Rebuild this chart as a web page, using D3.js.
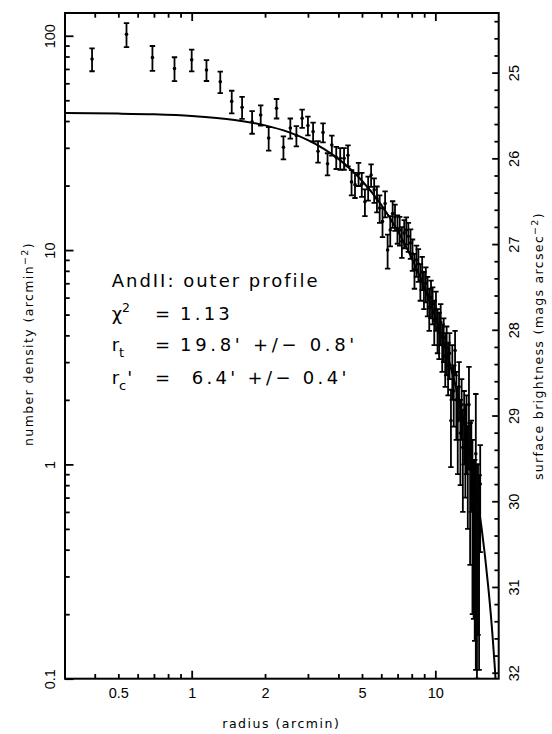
<!DOCTYPE html>
<html><head><meta charset="utf-8">
<script src="https://cdn.jsdelivr.net/npm/d3@7"></script>
<style>
body{margin:0;background:#fff;}
svg{display:block;}
</style></head><body>
<svg id="chart" width="552" height="734"></svg>
<script>
// ---- data ----
const radius = [
 0.39, 0.54, 0.69, 0.85, 1.00, 1.15, 1.31, 1.46, 1.61, 1.77,
 1.92, 2.07, 2.23, 2.38, 2.54, 2.69, 2.84, 3.00, 3.15, 3.30,
 3.46, 3.61, 3.76, 3.92, 4.07, 4.22, 4.38, 4.53, 4.68, 4.84,
 4.99, 5.14, 5.30, 5.45, 5.61, 5.76, 5.91, 6.07, 6.22, 6.37,
 6.53, 6.68, 6.83, 6.99, 7.14, 7.29, 7.45, 7.60, 7.75, 7.91,
 8.06, 8.21, 8.37, 8.52, 8.68, 8.83, 8.98, 9.14, 9.29, 9.44,
 9.60, 9.75, 9.90, 10.06, 10.21, 10.36, 10.52, 10.67, 10.82, 10.98,
 11.13, 11.28, 11.44, 11.59, 11.74, 11.90, 12.05, 12.20, 12.36, 12.51,
 12.67, 12.82, 12.97, 13.13, 13.28, 13.43, 13.59, 13.74, 13.89, 14.05,
 14.20, 14.36, 14.51, 14.66, 14.82, 14.97, 15.12, 15.28];
const density = [
 77.8, 101.5, 79.1, 70.4, 77.2, 69.2, 61.0, 49.4, 46.4, 39.7,
 42.7, 33.3, 45.9, 30.2, 37.1, 34.2, 41.2, 38.1, 35.7, 28.9,
 35.4, 25.3, 30.9, 27.1, 26.8, 26.8, 27.7, 20.8, 20.2, 22.7,
 20.3, 16.8, 19.5, 22.4, 19.1, 17.4, 15.7, 13.6, 16.5, 10.0,
 12.4, 14.8, 14.3, 12.6, 12.4, 11.0, 12.0, 12.4, 11.6, 10.8,
 9.6, 8.1, 9.0, 8.6, 7.2, 7.9, 6.6, 7.0, 6.2, 5.4,
 6.0, 5.6, 4.7, 5.3, 4.3, 4.1, 4.6, 3.6, 3.9, 3.2,
 3.5, 2.9, 3.3, 1.6, 2.8, 2.2, 3.4, 2.0, 1.6, 2.3,
 1.4, 1.9, 1.2, 1.6, 1.3, 1.5, 1.0, 1.9, 0.95, 1.1,
 0.75, 0.62, 0.6, 1.12, 0.55, 0.58, 0.5, 0.81];
const densityErr = [
 9.5, 13, 10.5, 9, 9, 7.7, 7, 6, 5.5, 4.8,
 4.6, 4.2, 4.8, 3.7, 4.0, 3.7, 4.0, 3.8, 3.6, 3.3,
 3.6, 3.0, 3.3, 3.2, 3.1, 3.1, 3.1, 2.8, 2.7, 2.8,
 2.6, 2.4, 2.5, 2.7, 2.5, 2.4, 2.3, 2.1, 2.3, 1.8,
 2.0, 2.1, 2.0, 1.9, 1.9, 1.8, 1.8, 1.8, 1.8, 1.7,
 1.6, 1.5, 1.5, 1.5, 1.4, 1.4, 1.3, 1.3, 1.3, 1.2,
 1.2, 1.1, 1.1, 1.1, 1.0, 1.0, 1.0, 0.9, 0.9, 0.9,
 0.9, 0.8, 0.8, 0.63, 0.8, 0.7, 0.8, 0.7, 0.7, 0.7,
 0.6, 0.6, 0.6, 0.6, 0.6, 0.6, 0.5, 0.95, 0.61, 0.5,
 0.55, 0.43, 0.45, 1.01, 0.45, 0.42, 0.39, 0.42];
// King-model fit curve
const modelRadius = [0.302, 0.5, 0.7, 1, 1.5, 2, 2.5, 3, 3.5, 4, 4.5, 5, 6, 7, 8, 9, 10, 11, 12, 13, 14, 15, 15.5, 16, 16.5, 17, 17.25, 17.5, 18, 18.5];
const modelDensity = [43.6, 43.34, 42.98, 42.22, 40.46, 38.17, 35.50, 32.60, 29.61, 26.63, 23.76, 21.05, 16.24, 12.30, 9.17, 6.74, 4.886, 3.479, 2.423, 1.640, 1.067, 0.657, 0.500, 0.371, 0.266, 0.183, 0.148, 0.1175, 0.0686, 0.0341];
// ticks
const xTickLabels = [0.5, 1, 2, 5, 10];
const xMajorTicks = [1, 10];
const xMinorTicks = [0.4, 0.5, 0.6, 0.7, 0.8, 0.9, 2, 3, 4, 5, 6, 7, 8, 9];
const yTickLabels = [0.1, 1, 10, 100];
const yMinorTicks = [0.2,0.3,0.4,0.5,0.6,0.7,0.8,0.9,2,3,4,5,6,7,8,9,20,30,40,50,60,70,80,90];
const magTickLabels = [25, 26, 27, 28, 29, 30, 31, 32];
const magZeroPoint = 29.57;   // mag = zp - 2.5 log10(density)

// ---- layout ----
const L = 65, R = 498.7, T = 13, B = 678.7;
const svg = d3.select("#chart");
const TICKFONT = "'Liberation Sans', Arial, sans-serif";
const TXTFONT = "'DejaVu Sans', sans-serif";

const x = d3.scaleLog().domain([0.302, 18.2]).range([L, R]);
const y = d3.scaleLog().domain([0.1, 127.7]).range([B, T]);
const mag = d3.scaleLinear()
  .domain([magZeroPoint - 2.5*Math.log10(127.7), magZeroPoint - 2.5*Math.log10(0.1)])
  .range([T, B]);
const magMinor = d3.range(122, 161).map(k => k/5).filter(v => Math.abs(v - Math.round(v)) > 1e-6);

svg.append("rect").attr("width",552).attr("height",734).attr("fill","#fff");

function tickAxis(axis, transform){
  const g = svg.append("g").attr("transform", transform).call(axis);
  g.select(".domain").remove();
  g.selectAll("line").attr("stroke","#000").attr("stroke-width",1.8);
  return g;
}
// bottom
tickAxis(d3.axisBottom(x).tickValues(xMinorTicks).tickSize(-4.7).tickFormat(""), `translate(0,${B})`);
tickAxis(d3.axisBottom(x).tickValues(xMajorTicks).tickSize(-8).tickFormat(""), `translate(0,${B})`);
const xl = tickAxis(d3.axisBottom(x).tickValues(xTickLabels).tickSize(0).tickPadding(9).tickFormat(d => String(d)), `translate(0,${B})`);
xl.attr("font-family", TICKFONT).attr("font-size", 14.5);
xl.selectAll("text").attr("fill","#000");
// top
tickAxis(d3.axisTop(x).tickValues(xMinorTicks).tickSize(-4.7).tickFormat(""), `translate(0,${T})`);
tickAxis(d3.axisTop(x).tickValues(xMajorTicks).tickSize(-8).tickFormat(""), `translate(0,${T})`);
// left
tickAxis(d3.axisLeft(y).tickValues(yMinorTicks).tickSize(-4.7).tickFormat(""), `translate(${L},0)`);
const yl = tickAxis(d3.axisLeft(y).tickValues(yTickLabels).tickSize(-8.5).tickFormat(d => String(d)), `translate(${L},0)`);
yl.attr("font-family", TICKFONT).attr("font-size", 14.5);
yl.selectAll("text").attr("fill","#000").attr("transform","rotate(-90)")
  .attr("x",0).attr("y",-10).attr("dy",null).attr("text-anchor","middle");
// right (surface brightness)
tickAxis(d3.axisRight(mag).tickValues(magMinor).tickSize(-4.3).tickFormat(""), `translate(${R},0)`);
const ml = tickAxis(d3.axisRight(mag).tickValues(magTickLabels).tickSize(-6.5).tickFormat(d => String(d)), `translate(${R},0)`);
ml.attr("font-family", TICKFONT).attr("font-size", 14.5);
ml.selectAll("text").attr("fill","#000").attr("transform","rotate(-90)")
  .attr("x",0).attr("y",20.6).attr("dy",null).attr("text-anchor","middle");

// clip
svg.append("clipPath").attr("id","plotclip").append("rect")
  .attr("x",L).attr("y",T).attr("width",R-L).attr("height",B-T);
const plot = svg.append("g").attr("clip-path","url(#plotclip)");

// model curve
const modelPts = modelRadius.map((r,i) => [r, modelDensity[i]]);
plot.append("path").datum(modelPts)
  .attr("fill","none").attr("stroke","#000").attr("stroke-width",2)
  .attr("d", d3.line().x(d => x(d[0])).y(d => y(d[1])).curve(d3.curveMonotoneX));

// data with error bars
const pts = radius.map((r,i) => ({r, d: density[i], e: densityErr[i]}));
const cap = 2.7;
const eb = plot.append("g").attr("stroke","#000").attr("stroke-width",1.8).attr("fill","none");
pts.forEach(p => {
  const px = x(p.r);
  const lo = Math.max(p.d - p.e, 0.02);
  const y1 = y(p.d + p.e), y2 = y(lo);
  eb.append("line").attr("x1",px).attr("x2",px).attr("y1",y1).attr("y2",y2);
  eb.append("line").attr("x1",px-cap).attr("x2",px+cap).attr("y1",y1).attr("y2",y1);
  eb.append("line").attr("x1",px-cap).attr("x2",px+cap).attr("y1",y2).attr("y2",y2);
});
plot.append("g").selectAll("circle").data(pts).join("circle")
  .attr("cx", d => x(d.r)).attr("cy", d => y(d.d)).attr("r",1.8).attr("fill","#000");

// frame
svg.append("rect").attr("x",L).attr("y",T).attr("width",R-L).attr("height",B-T)
  .attr("fill","none").attr("stroke","#000").attr("stroke-width",2);

// helper: stretch text to a measured width via letter-spacing
function fitWidth(sel, target){
  const node = sel.node();
  const len = node.getComputedTextLength();
  const n = node.textContent.length;
  sel.attr("letter-spacing", (target - len) / n);
}

// axis titles
const xt = svg.append("text").attr("x",281.3).attr("y",728).attr("text-anchor","middle")
  .attr("font-family",TXTFONT).attr("font-size",12.5).text("radius (arcmin)");
fitWidth(xt, 118);

const lt = svg.append("text").attr("transform","translate(33.3,344) rotate(-90)")
  .attr("text-anchor","middle").attr("font-family",TXTFONT).attr("font-size",12.5);
lt.append("tspan").text("number density (arcmin");
lt.append("tspan").attr("dy",-5).attr("font-size",9.5).text("−2");
lt.append("tspan").attr("dy",5).text(")");
fitWidth(lt, 204);

const rt = svg.append("text").attr("transform","translate(543,346) rotate(-90)")
  .attr("text-anchor","middle").attr("font-family",TXTFONT).attr("font-size",12.5);
rt.append("tspan").text("surface brightness (mags arcsec");
rt.append("tspan").attr("dy",-5).attr("font-size",9.5).text("−2");
rt.append("tspan").attr("dy",5).text(")");
fitWidth(rt, 268);

// annotation
const ann = svg.append("g").attr("font-family",TXTFONT).attr("font-size",18).attr("fill","#000");
const a1 = ann.append("text").attr("x",111.7).attr("y",287).text("AndII: outer profile");
fitWidth(a1, 208);

const s2 = ann.append("text").attr("x",111.7).attr("y",320);
s2.append("tspan").text("χ");
s2.append("tspan").attr("dy",-8).attr("font-size",12.5).text("2");
ann.append("text").attr("x",155).attr("y",320).text("=");
const v2 = ann.append("text").attr("x",180).attr("y",320).text("1.13");
fitWidth(v2, 53);

const s3 = ann.append("text").attr("x",111.7).attr("y",351);
s3.append("tspan").text("r");
s3.append("tspan").attr("dy",6).attr("font-size",13).text("t");
ann.append("text").attr("x",155).attr("y",351).text("=");
const v3 = ann.append("text").attr("x",180).attr("y",351).text("19.8' +/− 0.8'");
fitWidth(v3, 178);

const s4 = ann.append("text").attr("x",111.7).attr("y",384);
s4.append("tspan").text("r");
s4.append("tspan").attr("dy",6).attr("font-size",13).text("c");
s4.append("tspan").attr("dy",-6).attr("dx",1).text("'");
ann.append("text").attr("x",155).attr("y",384).text("=");
const v4 = ann.append("text").attr("x",191.7).attr("y",384).text("6.4' +/− 0.4'");
fitWidth(v4, 158);
</script>
</body></html>
